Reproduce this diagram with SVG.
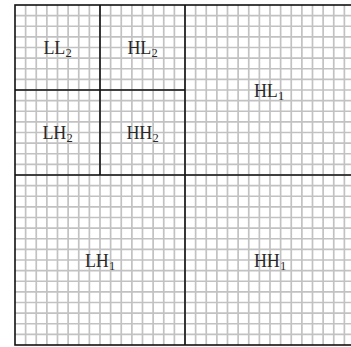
<svg xmlns="http://www.w3.org/2000/svg" width="351" height="347" viewBox="0 0 351 347">
  <style>
    .grid { fill: none; stroke: #c2c2c2; stroke-width: 1.7; }
    .div { fill: none; stroke: #111; stroke-width: 1.6; }
    .lbl { font-family: "Liberation Serif", "Times New Roman", serif; font-size: 18px; fill: #2a2a2a; text-anchor: middle; }
    .sub { font-size: 12.5px; }
  </style>
  <rect x="0" y="0" width="351" height="347" fill="#ffffff"/>
  <g id="grid">
    <path class="grid" d="M25.625 5V345M36.25 5V345M46.875 5V345M57.5 5V345M68.125 5V345M78.75 5V345M89.375 5V345M100 5V345M110.625 5V345M121.25 5V345M131.875 5V345M142.5 5V345M153.125 5V345M163.75 5V345M174.375 5V345M185 5V345M195.625 5V345M206.25 5V345M216.875 5V345M227.5 5V345M238.125 5V345M248.75 5V345M259.375 5V345M270 5V345M280.625 5V345M291.25 5V345M301.875 5V345M312.5 5V345M323.125 5V345M333.75 5V345M344.375 5V345"/>
    <path class="grid" d="M15 15.625H355M15 26.25H355M15 36.875H355M15 47.5H355M15 58.125H355M15 68.75H355M15 79.375H355M15 90H355M15 100.625H355M15 111.25H355M15 121.875H355M15 132.5H355M15 143.125H355M15 153.75H355M15 164.375H355M15 175H355M15 185.625H355M15 196.25H355M15 206.875H355M15 217.5H355M15 228.125H355M15 238.75H355M15 249.375H355M15 260H355M15 270.625H355M15 281.25H355M15 291.875H355M15 302.5H355M15 313.125H355M15 323.75H355M15 334.375H355"/>
  </g>
  <g id="dividers">
    <rect class="div" x="15" y="5" width="340" height="340"/>
    <path class="div" d="M185 5V345M15 175H355M100 5V175M15 90H185"/>
  </g>
  <g id="LL2"><text class="lbl" x="57.5" y="54">LL<tspan class="sub" dy="3">2</tspan></text></g>
  <g id="HL2"><text class="lbl" x="142.5" y="54">HL<tspan class="sub" dy="3">2</tspan></text></g>
  <g id="LH2"><text class="lbl" x="57.5" y="139">LH<tspan class="sub" dy="3">2</tspan></text></g>
  <g id="HH2"><text class="lbl" x="142.5" y="139">HH<tspan class="sub" dy="3">2</tspan></text></g>
  <g id="HL1"><text class="lbl" x="269" y="97">HL<tspan class="sub" dy="3">1</tspan></text></g>
  <g id="LH1"><text class="lbl" x="100" y="267">LH<tspan class="sub" dy="3">1</tspan></text></g>
  <g id="HH1"><text class="lbl" x="270" y="267">HH<tspan class="sub" dy="3">1</tspan></text></g>
</svg>
